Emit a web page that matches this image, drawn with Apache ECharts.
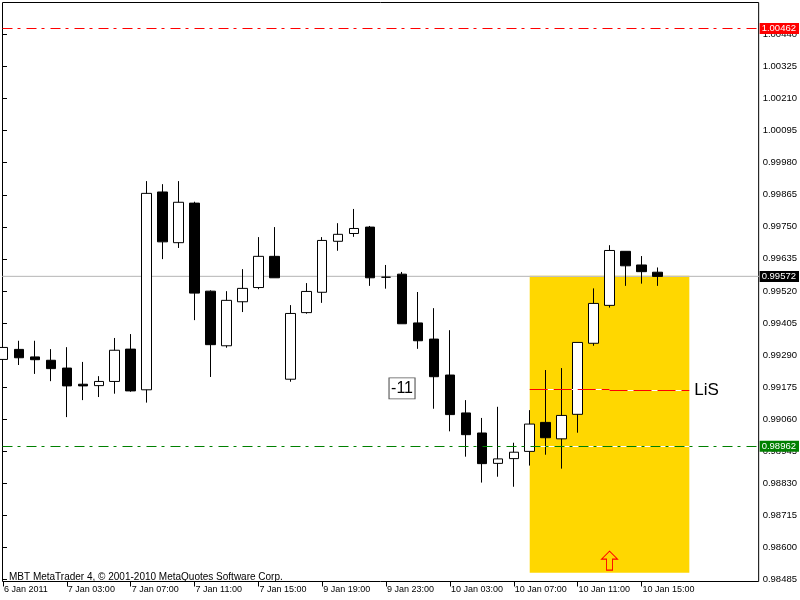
<!DOCTYPE html>
<html><head><meta charset="utf-8">
<script src="https://cdn.jsdelivr.net/npm/echarts@6/dist/echarts.min.js"></script>
<style>html,body{margin:0;padding:0;background:#fff}#c{width:800px;height:600px}</style>
</head><body><div id="c"></div>
<script>
// ---- data ----
const categories = [
  "6 Jan 23:00","7 Jan 00:00","7 Jan 01:00","7 Jan 02:00","7 Jan 03:00","7 Jan 04:00","7 Jan 05:00","7 Jan 06:00",
  "7 Jan 07:00","7 Jan 08:00","7 Jan 09:00","7 Jan 10:00","7 Jan 11:00","7 Jan 12:00","7 Jan 13:00","7 Jan 14:00",
  "7 Jan 15:00","7 Jan 16:00","9 Jan 17:00","9 Jan 18:00","9 Jan 19:00","9 Jan 20:00","9 Jan 21:00","9 Jan 22:00",
  "9 Jan 23:00","10 Jan 00:00","10 Jan 01:00","10 Jan 02:00","10 Jan 03:00","10 Jan 04:00","10 Jan 05:00","10 Jan 06:00",
  "10 Jan 07:00","10 Jan 08:00","10 Jan 09:00","10 Jan 10:00","10 Jan 11:00","10 Jan 12:00","10 Jan 13:00","10 Jan 14:00",
  "10 Jan 15:00","10 Jan 16:00"
];
const opens  = [0.99274,0.99310,0.99283,0.99271,0.99243,0.99185,0.99180,0.99195,0.99311,0.99165,0.99875,0.99693,0.99835,0.99519,0.99323,0.99481,0.99532,0.99644,0.99203,0.99442,0.99515,0.99698,0.99726,0.99749,0.99569,0.99580,0.99405,0.99347,0.99218,0.99082,0.99010,0.98901,0.98918,0.98944,0.99048,0.98989,0.99077,0.99332,0.99468,0.99662,0.99613,0.99587];
const closes = [0.99317,0.99280,0.99273,0.99241,0.99179,0.99179,0.99195,0.99307,0.99161,0.99870,0.99696,0.99838,0.99512,0.99327,0.99486,0.99529,0.99644,0.99567,0.99439,0.99518,0.99701,0.99723,0.99744,0.99567,0.99569,0.99402,0.99341,0.99212,0.99076,0.99004,0.98900,0.98917,0.98941,0.99042,0.98993,0.99073,0.99335,0.99475,0.99665,0.99610,0.99589,0.99572];
const lows   = [0.99269,0.99254,0.99222,0.99196,0.99067,0.99128,0.99139,0.99151,0.99158,0.99119,0.99634,0.99674,0.99415,0.99211,0.99316,0.99444,0.99526,0.99567,0.99194,0.99438,0.99477,0.99664,0.99714,0.99538,0.99528,0.99402,0.99312,0.99097,0.99016,0.98925,0.98832,0.98853,0.98817,0.98893,0.98932,0.98882,0.99011,0.99323,0.99460,0.99538,0.99546,0.99538];
const highs  = [0.99332,0.99341,0.99341,0.99311,0.99318,0.99265,0.99214,0.99351,0.99365,0.99914,0.99903,0.99914,0.99840,0.99522,0.99519,0.99598,0.99713,0.99749,0.99469,0.99548,0.99713,0.99763,0.99814,0.99753,0.99613,0.99588,0.99516,0.99458,0.99379,0.99128,0.99064,0.99104,0.98975,0.99092,0.99236,0.99243,0.99335,0.99529,0.99684,0.99662,0.99645,0.99604];

const xTickIndex  = [0,4,8,12,16,20,24,28,32,36,40];
const xTickLabels = ["6 Jan 2011","7 Jan 03:00","7 Jan 07:00","7 Jan 11:00","7 Jan 15:00","9 Jan 19:00","9 Jan 23:00","10 Jan 03:00","10 Jan 07:00","10 Jan 11:00","10 Jan 15:00"];
const yTicks = [0.98485,0.98600,0.98715,0.98830,0.98945,0.99060,0.99175,0.99290,0.99405,0.99520,0.99635,0.99750,0.99865,0.99980,1.00095,1.00210,1.00325,1.00440];

const levelTop = 1.00462;   // red dash-dot
const levelBid = 0.99572;   // grey bid line
const levelLow = 0.98962;   // green dash-dot
const boxFrom = [33, 0.99574], boxTo = [43, 0.98508];           // yellow zone
const lisLeft = [33, 38, 0.99166], lisRight = [38, 43, 0.99163]; // LiS line
const arrowPt = [38, 0.98552];
const noteLabel = "-11", notePt = [25, 0.99170];

// ---- chart ----
const FONT = 'Liberation Sans';
const chart = echarts.init(document.getElementById('c'), null, {renderer: 'canvas'});
const candleData = categories.map((_, i) => [i, opens[i], closes[i], lows[i], highs[i]]);
const lvlLabel = (bg, v) => ({
  show: true, position: 'end', distance: 1, color: '#fff', backgroundColor: bg,
  fontFamily: FONT, fontSize: 9.5, lineHeight: 10, padding: [1, 3, 0, 2],
  formatter: () => v.toFixed(5)
});

chart.setOption({
  animation: false,
  textStyle: {fontFamily: FONT},
  title: {text: 'MBT MetaTrader 4, \u00a9 2001-2010 MetaQuotes Software Corp.', left: 4, top: 567,
          textStyle: {fontFamily: FONT, fontSize: 10, fontWeight: 'normal', color: '#000'}},
  grid: {left: 2.5, top: 2.5, right: 39.5, bottom: 18.5, show: true, borderColor: '#000', borderWidth: 1, backgroundColor: 'transparent'},
  xAxis: {
    type: 'value', min: -0.03125, max: 47.34375,
    splitLine: {show: false},
    axisLine: {show: false},
    axisTick: {show: true, customValues: xTickIndex, length: 5, lineStyle: {color: '#000'}},
    axisLabel: {show: true, customValues: xTickIndex, align: 'left', margin: 4, padding: [0, 0, 0, 1],
      fontSize: 9, color: '#000', fontFamily: FONT,
      formatter: v => xTickLabels[xTickIndex.indexOf(Math.round(v))] || ''}
  },
  yAxis: {
    type: 'value', position: 'right', min: 0.98477, max: 1.00555, scale: true,
    splitLine: {show: false},
    axisLine: {show: false},
    axisTick: {show: true, customValues: yTicks, length: 4, lineStyle: {color: '#000'}},
    axisLabel: {show: true, customValues: yTicks, margin: 4, fontSize: 9.5, color: '#000', fontFamily: FONT,
      formatter: v => v.toFixed(5)}
  },
  series: [{
    type: 'candlestick',
    data: candleData,
    encode: {x: 0, y: [1, 2, 3, 4]},
    barWidth: 10,
    clip: true,
    silent: true,
    itemStyle: {color: '#ffffff', color0: '#000000', borderColor: '#000000', borderColor0: '#000000', borderWidth: 1},
    markArea: {
      silent: true,
      data: [
        [{coord: boxFrom, itemStyle: {color: '#FFD700', borderWidth: 0}}, {coord: boxTo}],
        [{yAxis: levelBid, itemStyle: {color: 'rgba(0,0,0,0)', borderColor: '#C0C0C0', borderWidth: 1}}, {yAxis: levelBid}]
      ]
    },
    markLine: {
      silent: true, symbol: ['none', 'none'], animation: false, precision: 5,
      data: [
        [{coord: [boxFrom[0], levelLow], lineStyle: {color: '#fff', type: 'solid', width: 1}, label: {show: false}}, {coord: [boxTo[0], levelLow]}],
        [{coord: [lisLeft[0], lisLeft[2]], lineStyle: {color: '#fff', type: 'solid', width: 1}, label: {show: false}}, {coord: [lisLeft[1], lisLeft[2]]}],
        [{coord: [lisRight[0], lisRight[2]], lineStyle: {color: '#fff', type: 'solid', width: 1}, label: {show: false}}, {coord: [lisRight[1], lisRight[2]]}],
        [{coord: [lisLeft[0], lisLeft[2]], lineStyle: {color: '#ff0000', type: [18, 6], width: 1}, label: {show: false}}, {coord: [lisLeft[1], lisLeft[2]]}],
        [{coord: [lisRight[0], lisRight[2]], lineStyle: {color: '#ff0000', type: [18, 6], width: 1},
          label: {show: true, position: 'end', distance: 5, formatter: 'LiS', color: '#000', fontSize: 17, fontFamily: FONT}},
         {coord: [lisRight[1], lisRight[2]]}],
        {yAxis: levelLow, lineStyle: {color: '#008000', type: [10, 5, 3, 6], width: 1}, label: lvlLabel('#008000', levelLow)},
        {yAxis: levelTop, lineStyle: {color: '#ff0000', type: [10, 5, 3, 6], width: 1}, label: lvlLabel('#ff0000', levelTop)},
        {yAxis: levelBid, lineStyle: {color: 'rgba(0,0,0,0)', width: 0}, label: lvlLabel('#000000', levelBid)}
      ]
    },
    markPoint: {
      silent: true,
      data: [
        {coord: arrowPt, symbol: 'path://M8,0 L16,8 L11,8 L11,19 L5,19 L5,8 L0,8 Z', symbolSize: [16, 19],
         itemStyle: {color: 'rgba(0,0,0,0)', borderColor: '#ff0000', borderWidth: 1}, label: {show: false}},
        {coord: notePt, symbol: 'rect', symbolSize: [26, 21],
         itemStyle: {color: '#ffffff', borderColor: '#555555', borderWidth: 1},
         label: {show: true, position: 'inside', formatter: noteLabel, color: '#000', fontSize: 16, fontFamily: FONT}}
      ]
    }
  }]
});
</script></body></html>
